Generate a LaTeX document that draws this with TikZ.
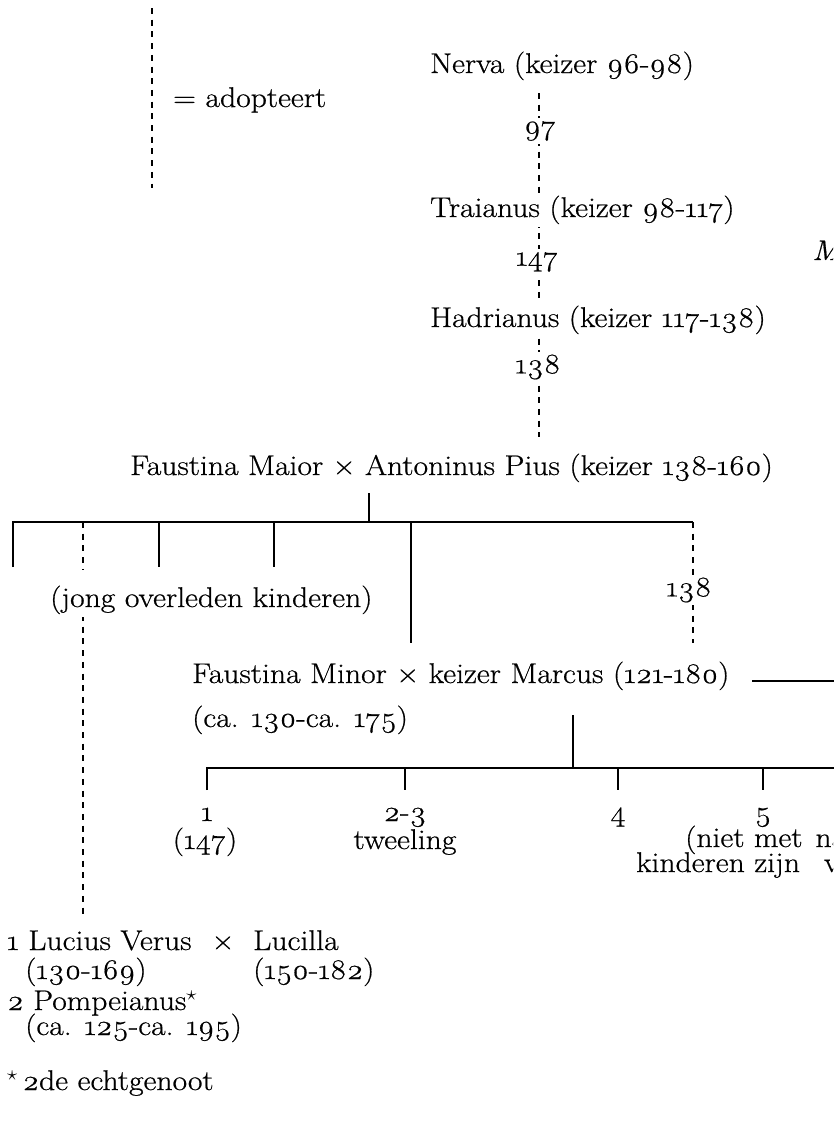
\documentclass[tikz,border=0pt]{standalone}
\usepackage{fontspec}
\setmainfont{Latin Modern Roman}[Numbers=OldStyle,FakeStretch=1.11,FakeBold=0.6]
\usetikzlibrary{backgrounds}
\tikzset{
  txt/.style={inner sep=0pt, font=\fontsize{28.5}{31}\selectfont},
  ontxt/.style={txt, fill=white, inner xsep=2pt, inner ysep=3pt},
  solidline/.style={line width=2pt},
  adoptline/.style={line width=2pt, dash pattern=on 6pt off 5.7pt},
}
\begin{document}
\begin{tikzpicture}[x=1pt,y=-1pt]
\useasboundingbox (0,0) rectangle (833,1127);
\clip (0,0) rectangle (833,1127);
% legend
\node[txt,anchor=base west] (adopt) at (173,107) {= adopteert};
% adoption line
\node[txt,anchor=base west] (nerva) at (430,73) {Nerva (keizer 96-98)};
\node[ontxt] (y97) at (540,131) {97};
\node[ontxt,anchor=base west] (traianus) at (428,217) {Traianus (keizer 98-117)};
\node[ontxt] (y147) at (537,262) {147};
\node[ontxt,anchor=base west] (hadrianus) at (428,327) {Hadrianus (keizer 117-138)};
\node[ontxt] (y138a) at (538,367) {138};
\node[txt,anchor=base west] (maior) at (130,475) {Faustina Maior × Antoninus Pius (keizer 138-160)};
\node[ontxt,anchor=base west] (jong) at (48,607) {(jong overleden kinderen)};
\node[ontxt] (y138b) at (689,590) {138};
\node[txt,anchor=base west] (minor) at (192,683) {Faustina Minor × keizer Marcus (121-180)};
\node[txt,anchor=base west] (minord) at (192,727) {(ca. 130-ca. 175)};
\node[txt,anchor=base west,font=\fontsize{28.5}{31}\selectfont\itshape] (mright) at (812,260) {M};
% children of Marcus
\node[txt,anchor=base] (k1) at (207,821) {1};
\node[txt,anchor=base] (k1d) at (205,849) {(147)};
\node[txt,anchor=base] (k23) at (405,821) {2-3};
\node[txt,anchor=base] (k23d) at (405,849) {tweeling};
\node[txt,anchor=base] (k4) at (618,821) {4};
\node[txt,anchor=base] (k5) at (763,821) {5};
\node[txt,anchor=base west] (k5d) at (685,847) {(niet met\hspace{13pt}na};
\node[txt,anchor=base west] (k5e) at (636,872) {kinderen zijn\hspace{24pt}v};
% Lucilla
\node[txt,anchor=base west] (lucius) at (7,950) {1 Lucius Verus};
\node[txt,anchor=base] (xluc) at (223,950) {×};
\node[txt,anchor=base west] (lucilla) at (253,950) {Lucilla};
\node[txt,anchor=base west] (luciusd) at (25,979) {(130-169)};
\node[txt,anchor=base west] (lucillad) at (253,979) {(150-182)};
\node[txt,anchor=base west] (pomp) at (7,1010) {2 Pompeianus$^{\star}$};
\node[txt,anchor=base west] (pompd) at (25,1035) {(ca. 125-ca. 195)};
\node[txt,anchor=base west] (note) at (7,1090) {$^{\star}$\,2de echtgenoot};
% coordinates
\coordinate (lg1) at (152,8);
\coordinate (lg2) at (152,188);
\coordinate (a1) at (539,93);
\coordinate (a2) at (539,437);
\coordinate (p1) at (369,493);
\coordinate (p2) at (369,522);
\coordinate (b0) at (13,567);
\coordinate (b1) at (13,522);
\coordinate (b2) at (693,522);
\coordinate (b3) at (693,643);
\coordinate (c1) at (159,522);
\coordinate (c1e) at (159,567);
\coordinate (c2) at (274,522);
\coordinate (c2e) at (274,567);
\coordinate (c3) at (411,522);
\coordinate (c3e) at (411,643);
\coordinate (d1) at (83,522);
\coordinate (d2) at (83,570);
\coordinate (d3) at (83,615);
\coordinate (d4) at (83,915);
\coordinate (m1) at (573,715);
\coordinate (m2) at (573,768);
\coordinate (e0) at (207,790);
\coordinate (e1) at (207,768);
\coordinate (e2) at (840,768);
\coordinate (t2) at (405,768);
\coordinate (t2e) at (405,790);
\coordinate (t4) at (618,768);
\coordinate (t4e) at (618,790);
\coordinate (t5) at (763,768);
\coordinate (t5e) at (763,790);
\coordinate (r1) at (752,681);
\coordinate (r2) at (840,681);
\begin{pgfonlayer}{background}
\draw[adoptline] (lg1) -- (lg2);
\draw[adoptline] (a1) -- (a2);
\draw[solidline] (p1) -- (p2);
\draw[solidline] (b0) -- (b1) -- (b2);
\draw[adoptline] (b2) -- (b3);
\draw[solidline] (c1) -- (c1e);
\draw[solidline] (c2) -- (c2e);
\draw[solidline] (c3) -- (c3e);
\draw[adoptline] (d1) -- (d2);
\draw[adoptline] (d3) -- (d4);
\draw[solidline] (m1) -- (m2);
\draw[solidline] (e0) -- (e1) -- (e2);
\draw[solidline] (t2) -- (t2e);
\draw[solidline] (t4) -- (t4e);
\draw[solidline] (t5) -- (t5e);
\draw[solidline] (r1) -- (r2);
\end{pgfonlayer}
\end{tikzpicture}
\end{document}
